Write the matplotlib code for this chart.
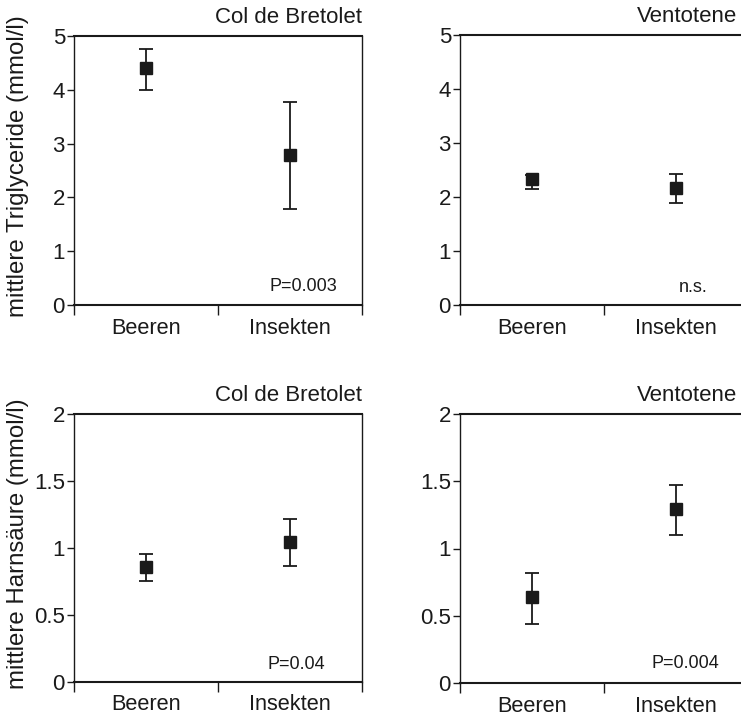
import matplotlib
matplotlib.use("Agg")
import matplotlib.pyplot as plt
import numpy as np

plt.rcParams['font.family'] = ['Liberation Sans', 'DejaVu Sans']

categories = ["Beeren", "Insekten"]

# Triglyceride (mmol/l): mean, lower, upper
tg_bret_mean = [4.40, 2.79]
tg_bret_low = [4.00, 1.79]
tg_bret_high = [4.76, 3.77]
tg_vent_mean = [2.33, 2.16]
tg_vent_low = [2.15, 1.89]
tg_vent_high = [2.40, 2.42]

# Harnsäure (mmol/l)
hs_bret_mean = [0.857, 1.048]
hs_bret_low = [0.755, 0.862]
hs_bret_high = [0.954, 1.217]
hs_vent_mean = [0.636, 1.292]
hs_vent_low = [0.437, 1.100]
hs_vent_high = [0.820, 1.473]

tg_ticks = [0, 1, 2, 3, 4, 5]
tg_ticklabels = ["0", "1", "2", "3", "4", "5"]
hs_ticks = [0, 0.5, 1, 1.5, 2]
hs_ticklabels = ["0", "0.5", "1", "1.5", "2"]

panels = [
    dict(mean=tg_bret_mean, low=tg_bret_low, high=tg_bret_high, title="Col de Bretolet",
         ptext="P=0.003", ticks=tg_ticks, labels=tg_ticklabels, ylim=5,
         ylabel="mittlere Triglyceride (mmol/l)", rect=(74, 36, 288, 269), tx=1.0, px=0.913, py=0.067),
    dict(mean=tg_vent_mean, low=tg_vent_low, high=tg_vent_high, title="Ventotene",
         ptext="n.s.", ticks=tg_ticks, labels=tg_ticklabels, ylim=5,
         ylabel=None, rect=(460, 35, 288, 270), tx=0.962, px=0.861, py=0.063),
    dict(mean=hs_bret_mean, low=hs_bret_low, high=hs_bret_high, title="Col de Bretolet",
         ptext="P=0.04", ticks=hs_ticks, labels=hs_ticklabels, ylim=2,
         ylabel="mittlere Harnsäure (mmol/l)", rect=(74, 414, 288, 268), tx=1.0, px=0.872, py=0.067),
    dict(mean=hs_vent_mean, low=hs_vent_low, high=hs_vent_high, title="Ventotene",
         ptext="P=0.004", ticks=hs_ticks, labels=hs_ticklabels, ylim=2,
         ylabel=None, rect=(460, 414, 288, 269), tx=0.962, px=0.899, py=0.074),
]

W, H = 741, 720
fig = plt.figure(figsize=(W / 100, H / 100), dpi=100)
ink = "#1a1a1a"

for p in panels:
    l, t, w, h = p["rect"]
    ax = fig.add_axes([l / W, 1 - (t + h) / H, w / W, h / H])
    x = np.arange(len(categories)) + 0.5
    mean = np.array(p["mean"])
    yerr = [mean - np.array(p["low"]), np.array(p["high"]) - mean]
    ax.errorbar(x, mean, yerr=yerr, fmt="s", color=ink, ecolor=ink, ms=9,
                elinewidth=1.3, capsize=5, capthick=1.3, clip_on=False)
    ax.set_xlim(0, 2)
    ax.set_ylim(0, p["ylim"])
    ax.set_xticks([0, 1, 2])
    ax.set_xticklabels([])
    ax.set_xticks(x, minor=True)
    ax.set_xticklabels(categories, minor=True, fontsize=15.7, color=ink)
    ax.tick_params(axis="x", which="major", direction="out", length=7, width=1.0, color=ink)
    ax.tick_params(axis="x", which="minor", length=0, pad=9)
    ax.set_yticks(p["ticks"])
    ax.set_yticklabels(p["labels"], fontsize=16, color=ink)
    ax.tick_params(axis="y", direction="out", length=5, width=1.0, pad=1.5, color=ink)
    for s in ax.spines.values():
        s.set_color(ink)
        s.set_linewidth(1.0)
    ax.spines["bottom"].set_linewidth(1.5)
    ax.spines["top"].set_linewidth(1.5)
    ax.text(p["tx"], 1.03, p["title"], transform=ax.transAxes, ha="right", va="bottom",
            fontsize=16, color=ink)
    ax.text(p["px"], p["py"], p["ptext"], transform=ax.transAxes, ha="right", va="center",
            fontsize=13, color=ink)
    if p["ylabel"]:
        ax.set_ylabel(p["ylabel"], fontsize=17.3, color=ink)
        ax.yaxis.set_label_coords(-0.156, 0.515)

fig.savefig("out.png", dpi=100, facecolor="white")
